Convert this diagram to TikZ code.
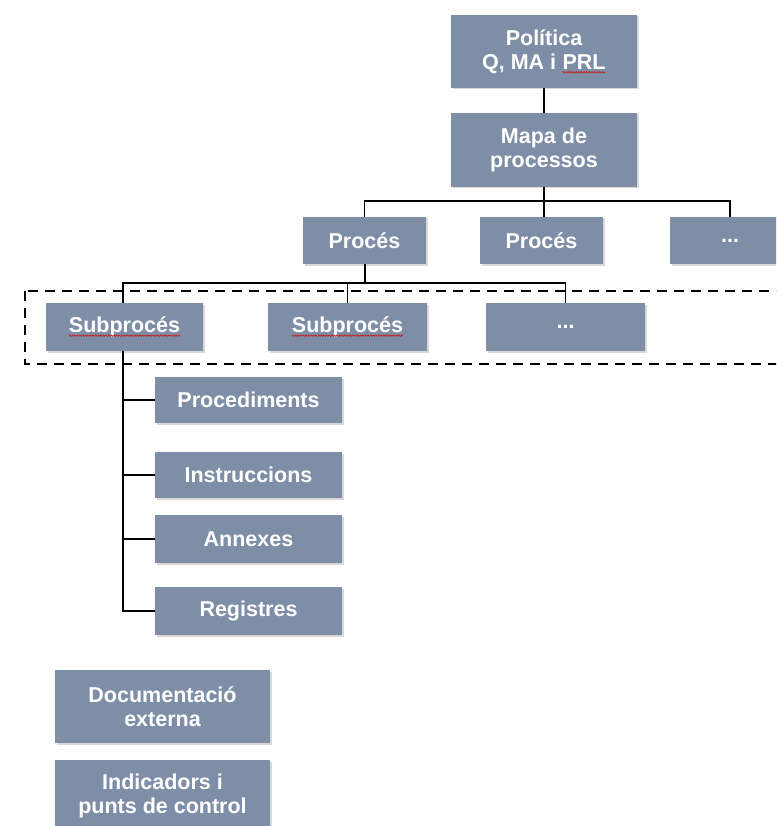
\documentclass[tikz,border=0pt]{standalone}
\usepackage{fontspec}
\setmainfont{Liberation Sans}
\usetikzlibrary{shadows,decorations.pathmorphing}
\definecolor{boxblue}{RGB}{126,142,167}
\definecolor{spellred}{RGB}{200,30,30}
\newcommand\squiggly[1]{\tikz[baseline=(sq.base)]{\node[shape=rectangle,inner sep=0pt,outer sep=0pt,minimum width=0pt,minimum height=0pt,fill=none,draw=none,text=white] (sq) {#1};\draw[spellred,line width=0.7pt,decorate,decoration={snake,amplitude=0.7pt,segment length=2.6pt}] ([yshift=-3pt]sq.base west) -- ([yshift=-3pt]sq.base east);}}
\tikzset{
  box/.style={rectangle, fill=boxblue, text=white, inner sep=0pt, align=center,
    font=\fontsize{21.5}{24}\selectfont\bfseries,
    drop shadow={shadow xshift=1.5pt, shadow yshift=-1.5pt, fill=black!30, opacity=0.5}},
  conn/.style={draw=black, line width=1.5pt},
  dashbox/.style={draw=black, line width=2.6pt, dash pattern=on 10pt off 7pt}
}
\begin{document}
\begin{tikzpicture}[x=1pt,y=-1pt]
\useasboundingbox (0,0) rectangle (776,826);
\clip (0,0) rectangle (776,826);
\fill[white] (0,0) rectangle (776,826);

% dashed frame
\draw[dashbox] (25,291) rectangle (800,364);

% nodes
\node[box, minimum width=186pt, minimum height=73pt] (pol) at (544,51.5) {Política\\Q, MA i \squiggly{PRL}};
\node[box, minimum width=186pt, minimum height=74pt] (mapa) at (544,150) {Mapa de\\processos};

\node[box, minimum width=123pt, minimum height=47pt] (proc1) at (364.5,240.5) {Procés};
\node[box, minimum width=123pt, minimum height=47pt] (proc2) at (541.5,240.5) {Procés};
\node[box, minimum width=120pt, minimum height=47pt] (proc3) at (730,240.5) {...};

\node[box, minimum width=157pt, minimum height=48pt] (sub1) at (124.5,327) {\squiggly{Subprocés}};
\node[box, minimum width=159pt, minimum height=48pt] (sub2) at (347.5,327) {\squiggly{Subprocés}};
\node[box, minimum width=159pt, minimum height=48pt] (sub3) at (565.5,327) {...};

\node[box, minimum width=187pt, minimum height=46pt] (pdm) at (248.5,400) {Procediments};
\node[box, minimum width=187pt, minimum height=46pt] (ins) at (248.5,475) {Instruccions};
\node[box, minimum width=187pt, minimum height=48pt] (ann) at (248.5,539) {Annexes};
\node[box, minimum width=187pt, minimum height=48pt] (reg) at (248.5,611) {Registres};

\node[box, minimum width=215pt, minimum height=73pt] (doc) at (162.5,706.5) {Documentació\\externa};
\node[box, minimum width=215pt, minimum height=72pt] (ind) at (162.5,796) {Indicadors i\\punts de control};

% connectors
\draw[conn] (pol.south) -- (mapa.north);
\draw[conn] (mapa.south) -- (mapa.south |- proc2.north);
\draw[conn] (proc1.north) |- (mapa.south |- 0,201) -| (proc3.north);

\coordinate (hb) at (365,283);
\draw[conn] (proc1.south -| hb) -- (hb);
\draw[conn] (sub1.north -| 123,0) |- (hb) -| (sub3.north);
\draw[conn] (hb -| sub2.north) -- (sub2.north);

\coordinate (vt) at (123,351);
\draw[conn] (vt) |- (reg.west);
\draw[conn] (pdm.west) -- (pdm.west -| vt);
\draw[conn] (ins.west) -- (ins.west -| vt);
\draw[conn] (ann.west) -- (ann.west -| vt);
\end{tikzpicture}
\end{document}
